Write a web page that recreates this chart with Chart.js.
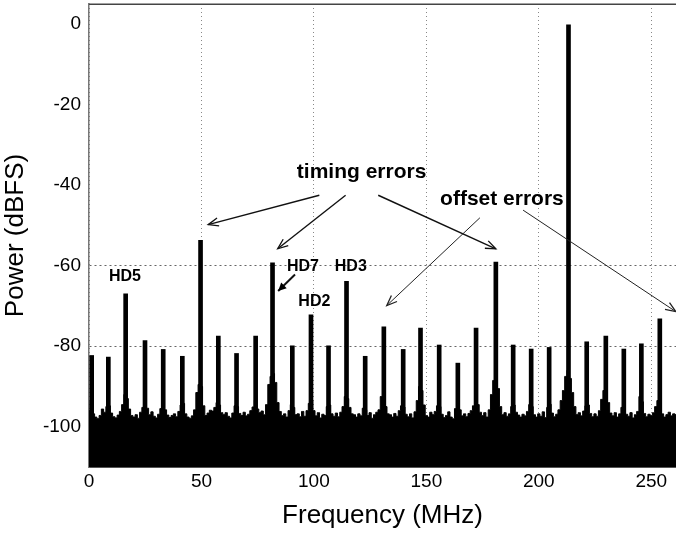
<!DOCTYPE html>
<html><head><meta charset="utf-8">
<script src="https://cdn.jsdelivr.net/npm/chart.js@4/dist/chart.umd.min.js"></script>
<style>html,body{margin:0;padding:0;background:#fff;}</style>
</head><body>
<canvas id="c" width="676" height="535"></canvas>
<script>
// Noise floor, one value per MHz bin starting at 0 MHz (dBFS)
const noiseDb = [
 -96.0,-93.5,-96.8,-97.6,-98.0,-97.2,-95.6,-96.4,-95.0,-94.8,
 -96.6,-97.5,-97.8,-97.1,-96.2,-94.5,-92.0,-93.0,-95.6,-97.2,
 -97.6,-97.0,-97.9,-96.4,-95.2,-93.8,-95.4,-97.0,-96.3,-97.4,
 -97.8,-96.9,-95.5,-93.5,-95.8,-97.1,-97.7,-97.2,-96.8,-97.5,
 -96.2,-94.6,-94.2,-96.8,-97.6,-97.9,-97.3,-95.8,-91.5,-89.5,
 -90.0,-94.8,-97.2,-96.6,-95.9,-96.1,-95.2,-94.0,-94.6,-96.5,
 -97.0,-96.5,-97.4,-97.8,-96.6,-94.8,-95.0,-96.7,-97.2,-96.4,
 -97.3,-96.9,-96.0,-95.1,-93.4,-95.6,-96.5,-96.1,-97.0,-94.5,
 -89.5,-87.5,-86.8,-89.0,-94.0,-96.2,-97.2,-96.8,-97.6,-96.0,
 -94.5,-95.2,-97.0,-96.8,-97.5,-96.2,-97.4,-96.0,-94.2,-93.5,
 -96.0,-97.3,-96.5,-97.8,-96.9,-97.2,-95.0,-94.6,-96.8,-97.4,
 -96.6,-97.5,-96.4,-95.0,-92.5,-93.0,-95.2,-96.8,-97.0,-97.6,
 -96.8,-97.3,-95.4,-95.8,-97.2,-96.5,-97.9,-97.0,-96.4,-95.8,
 -92.5,-93.5,-95.0,-96.8,-97.0,-97.6,-96.7,-97.4,-96.0,-94.8,
 -95.1,-96.9,-97.5,-96.8,-97.8,-96.3,-93.5,-90.0,-91.0,-94.6,
 -97.2,-97.6,-96.4,-97.0,-96.2,-94.8,-95.0,-96.9,-97.7,-97.2,
 -96.3,-97.6,-98.0,-95.5,-94.6,-95.8,-97.3,-96.8,-97.5,-96.7,
 -96.0,-94.8,-93.0,-94.5,-96.4,-97.2,-96.5,-97.6,-95.8,-92.0,
 -88.5,-87.0,-90.5,-95.0,-97.0,-96.5,-97.4,-96.8,-95.0,-94.6,
 -96.4,-97.1,-97.6,-96.9,-97.3,-96.2,-94.5,-95.0,-97.0,-97.6,
 -96.8,-97.4,-96.3,-97.7,-95.2,-94.4,-96.6,-97.5,-96.9,-95.8,
 -93.5,-91.0,-87.5,-86.0,-88.0,-91.5,-95.0,-97.0,-96.5,-97.3,
 -96.1,-94.8,-94.6,-96.7,-97.5,-96.8,-97.4,-96.0,-93.2,-91.0,
 -90.5,-94.0,-96.6,-97.3,-96.5,-97.6,-96.8,-95.2,-94.8,-96.9,
 -97.4,-96.5,-97.8,-97.0,-96.2,-92.5,-93.8,-96.7,-97.5,-96.9,
 -97.2,-96.5,-95.0,-93.5,-94.5,-96.8,-97.6,-97.0,-96.4,-97.3,
 -96.8,-97.0
];
// Spurious tones: frequency (MHz) and level (dBFS)
const spurFreq = [1.2, 8.6, 16.3, 24.9, 33.0, 41.5, 49.6, 57.5, 65.6, 74.1, 81.6, 90.4, 98.7, 106.5, 114.5, 122.8,
  131.1, 139.7, 147.4, 155.7, 164.0, 172.1, 180.9, 188.6, 196.6, 204.6, 213.2, 221.3, 229.8, 237.8, 245.6, 253.8];
const spurDb = [-82.3, -82.7, -67.0, -78.6, -80.8, -82.5, -53.7, -77.5, -81.8, -77.5, -59.3, -79.9, -72.2, -79.9, -63.9, -82.5,
  -75.2, -80.8, -75.5, -79.7, -84.2, -75.5, -59.1, -79.7, -80.7, -80.3, -0.2, -78.9, -77.5, -80.7, -79.4, -73.2];

const xTickValues = [0, 50, 100, 150, 200, 250];
const yTickValues = [0, -20, -40, -60, -80, -100];
const xRange = [0, 261];
const yRange = [-110, 5];

// Annotation texts (positions in data units)
const noteText = ['timing errors', 'offset errors', 'HD5', 'HD7', 'HD3', 'HD2'];
const noteX = [121.2, 183.6, 16.0, 95.1, 116.4, 100.2];
const noteY = [-36.8, -43.5, -62.7, -60.1, -60.1, -68.8];
const noteSize = [21, 21, 16, 16, 16, 16];
// Arrows (from -> to, data units)
const arrowFromX = [102.4, 114.1, 128.6, 173.8, 193.0, 91.6];
const arrowFromY = [-42.5, -42.5, -42.5, -48.1, -46.2, -62.2];
const arrowToX = [53.0, 83.9, 180.9, 132.4, 260.9, 84.1];
const arrowToY = [-49.8, -55.8, -55.8, -69.9, -71.4, -66.3];
const arrowKind = ['open', 'open', 'open', 'thin', 'thin', 'filled'];

const FONT = "'Liberation Sans', Arial, Helvetica, sans-serif";

const annotatePlugin = {
  id: 'annotate',
  afterDatasetsDraw(chart) {
    const ctx = chart.ctx, xs = chart.scales.x, ys = chart.scales.y, a = chart.chartArea;
    ctx.save();
    // top frame line
    ctx.strokeStyle = '#444';
    ctx.lineWidth = 1.5;
    ctx.beginPath();
    ctx.moveTo(a.left, a.top + 0.25);
    ctx.lineTo(a.right, a.top + 0.25);
    ctx.stroke();
    // texts
    ctx.fillStyle = '#000';
    ctx.textAlign = 'center';
    ctx.textBaseline = 'middle';
    for (let i = 0; i < noteText.length; i++) {
      ctx.font = 'bold ' + noteSize[i] + 'px ' + FONT;
      ctx.fillText(noteText[i], xs.getPixelForValue(noteX[i]), ys.getPixelForValue(noteY[i]));
    }
    // arrows
    for (let i = 0; i < arrowFromX.length; i++) {
      const x1 = xs.getPixelForValue(arrowFromX[i]), y1 = ys.getPixelForValue(arrowFromY[i]);
      const x2 = xs.getPixelForValue(arrowToX[i]), y2 = ys.getPixelForValue(arrowToY[i]);
      const ang = Math.atan2(y2 - y1, x2 - x1);
      const kind = arrowKind[i];
      ctx.strokeStyle = kind === 'thin' ? '#222' : '#111';
      ctx.lineWidth = kind === 'thin' ? 1 : (kind === 'filled' ? 2 : 1.4);
      ctx.beginPath();
      ctx.moveTo(x1, y1);
      ctx.lineTo(x2, y2);
      ctx.stroke();
      const len = kind === 'filled' ? 9 : 11, spread = kind === 'filled' ? 0.45 : 0.38;
      const hx1 = x2 - len * Math.cos(ang - spread), hy1 = y2 - len * Math.sin(ang - spread);
      const hx2 = x2 - len * Math.cos(ang + spread), hy2 = y2 - len * Math.sin(ang + spread);
      if (kind === 'filled') {
        ctx.fillStyle = '#000';
        ctx.beginPath();
        ctx.moveTo(x2, y2); ctx.lineTo(hx1, hy1); ctx.lineTo(hx2, hy2); ctx.closePath();
        ctx.fill();
      } else {
        ctx.lineWidth = 1.3;
        ctx.beginPath();
        ctx.moveTo(hx1, hy1); ctx.lineTo(x2, y2); ctx.lineTo(hx2, hy2);
        ctx.stroke();
      }
    }
    ctx.restore();
  }
};

new Chart(document.getElementById('c'), {
  data: {
    datasets: [
      {
        type: 'bar',
        label: 'tones',
        data: spurFreq.map((f, i) => ({ x: f, y: [yRange[0], spurDb[i]] })),
        backgroundColor: '#000',
        borderWidth: 0,
        barThickness: 4,
        grouped: false,
        order: 1
      },
      {
        type: 'line',
        label: 'noise',
        data: noiseDb.map((v, i) => ({ x: i, y: v })),
        borderColor: '#000',
        backgroundColor: '#000',
        borderWidth: 1,
        pointRadius: 0,
        stepped: 'middle',
        fill: 'start',
        order: 2
      }
    ]
  },
  options: {
    responsive: false,
    animation: false,
    devicePixelRatio: 1,
    layout: { padding: { top: 4, left: 0, right: 0, bottom: 0 } },
    plugins: { legend: { display: false }, tooltip: { enabled: false } },
    scales: {
      x: {
        type: 'linear',
        min: xRange[0], max: xRange[1],
        offset: false,
        afterBuildTicks: s => { s.ticks = xTickValues.map(v => ({ value: v })); },
        afterFit: s => { s.height = 68; s.paddingLeft = 0; s.paddingRight = 0; },
        ticks: { color: '#000', font: { family: FONT, size: 19 }, padding: 3, maxRotation: 0, autoSkip: false },
        grid: { color: '#888', lineWidth: 1, drawTicks: false, offset: false, borderDash: [1, 3] },
        border: { display: true, color: '#555', width: 1, dash: [1, 3] },
        title: { display: true, text: 'Frequency (MHz)', color: '#000', font: { family: FONT, size: 26, lineHeight: 1.2 }, padding: { top: 0, bottom: 4 } }
      },
      y: {
        type: 'linear',
        min: yRange[0], max: yRange[1],
        afterBuildTicks: s => { s.ticks = yTickValues.map(v => ({ value: v })); },
        afterFit: s => { s.width = 89; s.paddingTop = 0; s.paddingBottom = 0; },
        ticks: { color: '#000', font: { family: FONT, size: 19 }, padding: 8 },
        grid: {
          color: c => (c.tick && (c.tick.value === -60 || c.tick.value === -80)) ? '#666' : 'rgba(0,0,0,0)',
          lineWidth: 1, drawTicks: false, borderDash: [2, 3]
        },
        border: { display: true, color: '#777', width: 1.5, dash: [2, 3] },
        title: { display: true, text: 'Power (dBFS)', color: '#000', font: { family: FONT, size: 26, lineHeight: 1.2 }, padding: { top: 0, bottom: 0 } }
      }
    }
  },
  plugins: [annotatePlugin]
});
</script>
</body></html>
